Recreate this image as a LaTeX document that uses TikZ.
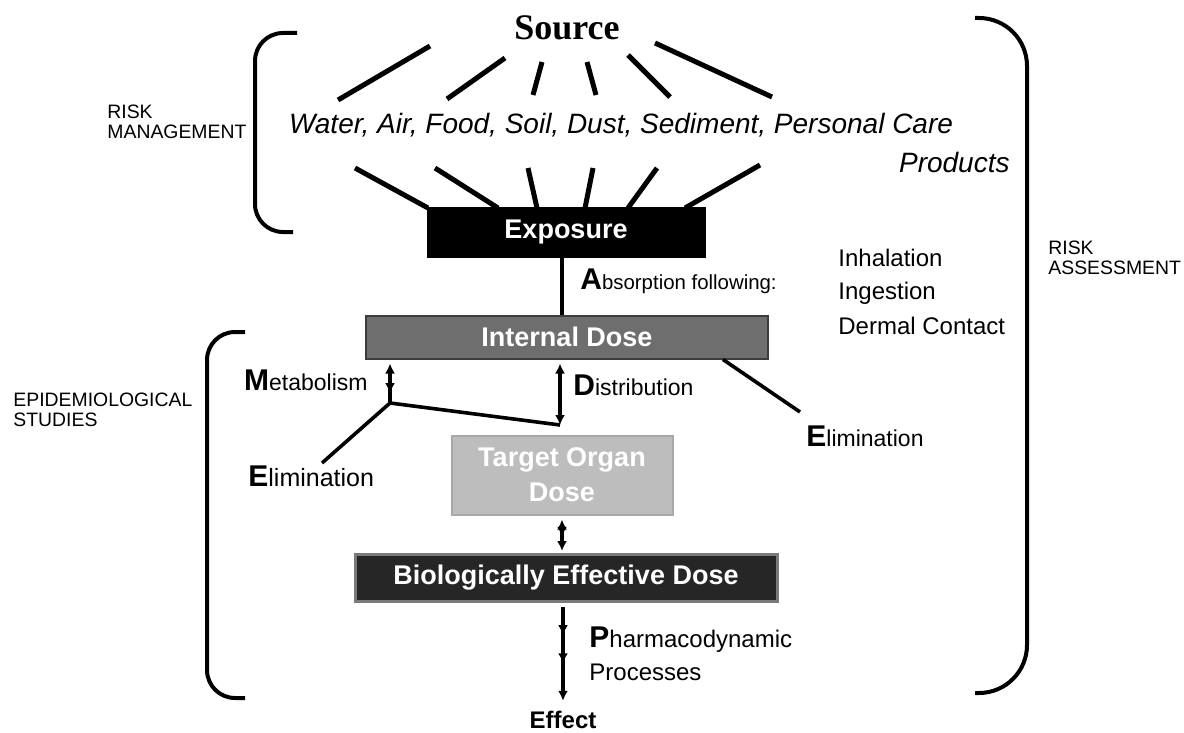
\documentclass[tikz,border=0pt]{standalone}
\usepackage{fontspec}
\setmainfont{Liberation Sans}
\newfontfamily\srcfont{Liberation Serif}
\usetikzlibrary{positioning, arrows.meta, calc, decorations.markings}

\definecolor{intgray}{HTML}{6E6E6E}
\definecolor{intedge}{HTML}{3C3C3C}
\definecolor{tgtgray}{HTML}{BDBDBD}
\definecolor{tgtedge}{HTML}{A8A8A8}
\definecolor{bedgray}{HTML}{262626}
\definecolor{bededge}{HTML}{7A7A7A}

\newcommand{\firstletter}[1]{{\fontsize{15}{15}\selectfont\bfseries #1}}

\begin{document}
\begin{tikzpicture}[
    x=0.5pt, y=-0.5pt,
    box/.style={
        rectangle,
        draw=black,
        line width=1pt,
        text=white,
        align=center,
        inner sep=0pt,
        font=\fontsize{13.5}{17.5}\selectfont\bfseries
    },
    lbl/.style={
        anchor=west,
        inner sep=0pt,
        font=\fontsize{11.5}{14}\selectfont
    },
    side/.style={
        anchor=north west,
        align=left,
        inner sep=0pt,
        font=\fontsize{9.7}{10}\selectfont
    },
    spoke/.style={line width=2.5pt},
    bracket/.style={line width=2pt, rounded corners=14pt},
    link/.style={line width=1.8pt},
    tip/.style={line width=1.6pt, -{Latex[length=5pt,width=5pt]}},
    dbl/.style={line width=1.6pt, {Latex[length=5pt,width=5pt]}-{Latex[length=5pt,width=5pt]}},
    midtip/.style={
        postaction={decorate},
        decoration={markings, mark=at position #1 with {\arrow{Latex[length=5pt,width=5pt]}}}
    },
    twotips/.style={
        postaction={decorate},
        decoration={markings,
            mark=at position 0.3 with {\arrow{Latex[length=5pt,width=5pt]}},
            mark=at position 0.6 with {\arrow{Latex[length=5pt,width=5pt]}}}
    }
]
\useasboundingbox (0,0) rectangle (1184,733);

\node[font=\srcfont\fontsize{18}{20}\selectfont\bfseries, inner sep=0pt] (src) at (567,28) {Source};
\node[font=\fontsize{14}{17}\selectfont\itshape, inner sep=0pt] (media) at (621,125) {Water, Air, Food, Soil, Dust, Sediment, Personal Care};
\node[font=\fontsize{14}{17}\selectfont\itshape, inner sep=0pt, anchor=east] (prod) at (1010,162) {Products};

\node[box, fill=black, minimum width=138.5pt, minimum height=24.5pt] (expo) at (566,232) {Exposure};
\node[box, fill=intgray, draw=intedge, minimum width=201pt, minimum height=21.5pt] (intd) at (567,337) {Internal Dose};
\node[box, fill=tgtgray, draw=tgtedge, minimum width=110.5pt, minimum height=39.5pt] (tgt) at (562,475) {Target Organ\\Dose};
\node[box, fill=bedgray, draw=bededge, line width=1.5pt, minimum width=211pt, minimum height=23.5pt] (bed) at (566,578) {Biologically Effective Dose};
\node[font=\fontsize{12}{14}\selectfont\bfseries, inner sep=0pt] (eff) at (563,720) {Effect};

\node[lbl, font=\fontsize{10.2}{12}\selectfont] (absn) at (580,281) {\firstletter{A}bsorption following:};
\node[lbl, font=\fontsize{12}{14}\selectfont] (inh) at (838,258) {Inhalation};
\node[lbl, font=\fontsize{12}{14}\selectfont] (ing) at (838,293) {Ingestion};
\node[lbl, font=\fontsize{12}{14}\selectfont] (derm) at (838,326) {Dermal Contact};
\node[lbl, anchor=east] (met) at (368,380) {\firstletter{M}etabolism};
\node[lbl] (dist) at (573,385) {\firstletter{D}istribution};
\node[lbl, font=\fontsize{12.5}{14}\selectfont] (eliml) at (248,476) {\firstletter{E}limination};
\node[lbl] (elimr) at (806,436) {\firstletter{E}limination};
\node[lbl, font=\fontsize{12}{14}\selectfont] (phar) at (589,640) {\firstletter{P}harmacodynamic};
\node[lbl, font=\fontsize{12}{14}\selectfont] (proc) at (589,672) {Processes};

\node[side] (rm) at (107,105) {RISK\\MANAGEMENT};
\node[side] (epi) at (13,393) {EPIDEMIOLOGICAL\\STUDIES};
\node[side] (ra) at (1048,241) {RISK\\ASSESSMENT};

\foreach \n/\x/\y in {a1/338/100, a2/447/99, a3/533/95, a4/596/95, a5/670/97, a6/772/97,
                      s1/430/46, s2/505/58, s3/542/62, s4/587/62, s5/628/55, s6/655/43,
                      b1/355/168, b2/435/168, b3/528/168, b4/593/168, b5/657/168, b6/760/165,
                      e1/428/208, e2/498/208, e3/537/208, e4/585/208, e5/628/208, e6/685/208}
    \coordinate (\n) at (\x,\y);
\foreach \i in {1,...,6} {
    \draw[spoke] (a\i) -- (s\i);
    \draw[spoke] (b\i) -- (e\i);
}

\coordinate (jn) at (390,403);
\coordinate (dj) at (560,425);
\coordinate (el) at (322,463);
\coordinate (er) at (800,412);

\draw[link] (expo.south -| 562,0) -- (intd.north -| 562,0);
\draw[link] (el) -- (jn) -- (dj);
\draw[link, {Latex[length=5pt,width=5pt]}-, midtip=0.75] (jn |- intd.south) ++(0,4) -- (jn);
\draw[dbl] (dj) -- ([yshift=-2pt]dj |- intd.south);
\draw[link] ($(intd.south east)+(-46,0)$) -- (er);
\draw[dbl, midtip=0.55] ([yshift=-2pt]tgt.south) -- ([yshift=1pt]tgt.south |- bed.north);
\draw[tip, twotips] ([yshift=-2pt]bed.south -| eff.north) -- ([yshift=5pt]eff.north);

\draw[bracket] (297,33) -- (255,33) -- (255,232) -- (293,232);
\draw[bracket] (245,332) -- (207,332) -- (207,698) -- (245,698);
\draw[bracket, rounded corners=24pt] (975,18) -- (1027,18) -- (1027,693) -- (975,693);

\end{tikzpicture}
\end{document}
